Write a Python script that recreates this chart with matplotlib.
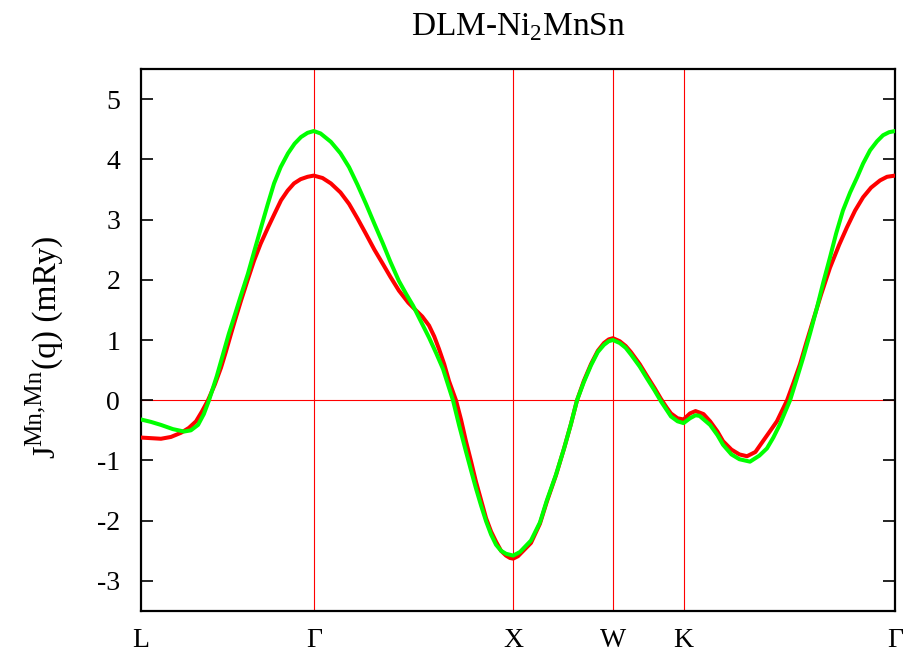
import numpy as np
import matplotlib
matplotlib.use("Agg")
import matplotlib.pyplot as plt

plt.rcParams['font.family'] = ['Liberation Serif', 'DejaVu Serif']
plt.rcParams['mathtext.fontset'] = 'custom'
plt.rcParams['mathtext.rm'] = 'Liberation Serif'
plt.rcParams['axes.unicode_minus'] = False

# high-symmetry points along the fcc path (path length units)
kpt_labels = ['L', 'Γ', 'X', 'W', 'K', 'Γ']
kpt_pos = [0.0, 0.866, 1.866, 2.366, 2.720, 3.780]

# red curve
x_red = [0.0, 0.05, 0.10, 0.15, 0.201, 0.24, 0.276, 0.305, 0.336, 0.37, 0.401, 0.425,
         0.451, 0.476, 0.501, 0.535, 0.567, 0.60, 0.637, 0.67, 0.702, 0.735, 0.767, 0.80,
         0.835, 0.866, 0.91, 0.952, 1.0, 1.043, 1.085, 1.128, 1.17, 1.213, 1.25, 1.293,
         1.34, 1.379, 1.41, 1.444, 1.47, 1.494, 1.52, 1.544, 1.579, 1.605, 1.629, 1.655,
         1.679, 1.705, 1.730, 1.755, 1.780, 1.805, 1.830, 1.85, 1.866, 1.89, 1.955, 2.0,
         2.035, 2.08, 2.121, 2.155, 2.186, 2.22, 2.256, 2.29, 2.321, 2.345, 2.366, 2.40,
         2.43, 2.456, 2.50, 2.537, 2.575, 2.607, 2.635, 2.657, 2.69, 2.720, 2.752, 2.78,
         2.82, 2.853, 2.89, 2.918, 2.96, 3.0, 3.038, 3.08, 3.118, 3.15, 3.188, 3.239,
         3.27, 3.304, 3.335, 3.369, 3.41, 3.454, 3.50, 3.539, 3.58, 3.620, 3.66, 3.705,
         3.74, 3.780]
j_red = [-0.62, -0.63, -0.64, -0.61, -0.54, -0.46, -0.35, -0.19, 0.0, 0.26, 0.54, 0.80,
         1.10, 1.38, 1.65, 2.00, 2.32, 2.60, 2.87, 3.10, 3.32, 3.48, 3.60, 3.67,
         3.71, 3.73, 3.69, 3.60, 3.45, 3.26, 3.02, 2.76, 2.50, 2.26, 2.05, 1.82,
         1.62, 1.49, 1.39, 1.24, 1.06, 0.85, 0.60, 0.32, 0.0, -0.33, -0.68, -1.02,
         -1.35, -1.66, -1.96, -2.18, -2.35, -2.50, -2.58, -2.62, -2.63, -2.59, -2.37, -2.05,
         -1.68, -1.25, -0.80, -0.40, 0.0, 0.32, 0.60, 0.82, 0.95, 1.01, 1.03, 0.98,
         0.90, 0.80, 0.60, 0.40, 0.20, 0.02, -0.12, -0.22, -0.30, -0.32, -0.22, -0.18,
         -0.23, -0.35, -0.52, -0.68, -0.82, -0.90, -0.93, -0.86, -0.68, -0.53, -0.35, 0.0,
         0.28, 0.60, 0.95, 1.32, 1.76, 2.20, 2.58, 2.87, 3.15, 3.37, 3.53, 3.65,
         3.71, 3.73]

# green curve
x_green = [0.0, 0.05, 0.10, 0.16, 0.216, 0.25, 0.286, 0.315, 0.341, 0.38, 0.416, 0.44,
           0.466, 0.50, 0.536, 0.57, 0.602, 0.635, 0.667, 0.70, 0.737, 0.77, 0.802, 0.835,
           0.866, 0.90, 0.952, 1.0, 1.043, 1.085, 1.128, 1.17, 1.213, 1.25, 1.293, 1.33,
           1.364, 1.40, 1.444, 1.48, 1.514, 1.564, 1.595, 1.629, 1.655, 1.679, 1.705, 1.730,
           1.755, 1.780, 1.805, 1.830, 1.866, 1.90, 1.955, 2.0, 2.035, 2.08, 2.121, 2.155,
           2.186, 2.22, 2.256, 2.29, 2.321, 2.345, 2.366, 2.40, 2.43, 2.456, 2.50, 2.537,
           2.575, 2.607, 2.635, 2.657, 2.69, 2.720, 2.752, 2.78, 2.80, 2.853, 2.89, 2.918,
           2.96, 3.0, 3.053, 3.10, 3.138, 3.17, 3.203, 3.254, 3.285, 3.319, 3.355, 3.389,
           3.42, 3.454, 3.485, 3.519, 3.555, 3.590, 3.62, 3.655, 3.69, 3.720, 3.75, 3.780]
j_green = [-0.32, -0.36, -0.41, -0.48, -0.52, -0.50, -0.41, -0.23, 0.0, 0.40, 0.82, 1.10,
           1.37, 1.73, 2.10, 2.50, 2.87, 3.25, 3.60, 3.87, 4.10, 4.26, 4.37, 4.44,
           4.47, 4.43, 4.29, 4.10, 3.87, 3.58, 3.26, 2.93, 2.60, 2.30, 1.98, 1.76,
           1.57, 1.33, 1.04, 0.78, 0.52, 0.0, -0.42, -0.85, -1.17, -1.46, -1.75, -2.01,
           -2.23, -2.40, -2.50, -2.55, -2.58, -2.52, -2.33, -2.03, -1.66, -1.24, -0.80, -0.40,
           0.0, 0.30, 0.58, 0.80, 0.92, 0.98, 1.00, 0.95, 0.87, 0.76, 0.56, 0.36,
           0.16, -0.02, -0.16, -0.27, -0.35, -0.38, -0.30, -0.25, -0.26, -0.41, -0.58, -0.74,
           -0.90, -0.98, -1.02, -0.92, -0.80, -0.62, -0.40, 0.0, 0.33, 0.70, 1.12, 1.54,
           1.95, 2.37, 2.77, 3.15, 3.45, 3.70, 3.93, 4.15, 4.30, 4.40, 4.45, 4.47]

W, H = 914, 663
fig = plt.figure(figsize=(W / 100, H / 100), dpi=100)
ax = fig.add_axes([141 / W, 52 / H, 754 / W, 542 / H])

for p in kpt_pos[1:-1]:
    ax.axvline(p, color='#ff0000', lw=0.8, zorder=1)
ax.axhline(0, color='#ff0000', lw=0.8, zorder=1)

ax.plot(x_red, j_red, color='#ff0000', lw=2.9, zorder=3, solid_joinstyle='round')
ax.plot(x_green, j_green, color='#00ff00', lw=2.9, zorder=4, solid_joinstyle='round')

ax.set_xlim(kpt_pos[0], kpt_pos[-1])
ax.set_ylim(-3.5, 5.5)
ax.set_xticks(kpt_pos)
ax.set_xticklabels(kpt_labels)
ax.set_yticks(range(-3, 6))
ax.tick_params(axis='y', direction='in', length=8.5, width=1.2, labelsize=20,
               right=True, pad=15)
ax.tick_params(axis='x', length=0, labelsize=20, pad=12)
for s in ax.spines.values():
    s.set_linewidth(1.6)

ax.set_title('DLM-Ni$_\\mathrm{2}$MnSn', fontsize=24, pad=24)

# y label built from pieces so the superscript stays large (gnuplot style)
renderer = fig.canvas.get_renderer()
pieces = [('J', 23, 54), ('Mn,Mn', 18, 41), ('(q) (mRy)', 24, 56)]
ypos = H - 458
for txt, fs, xb in pieces:
    t = fig.text(xb / W, ypos / H, txt, fontsize=fs, rotation=90,
                 rotation_mode='anchor', ha='left', va='baseline')
    bb = t.get_window_extent(renderer)
    ypos = bb.y1

fig.savefig('out.png', dpi=100)
